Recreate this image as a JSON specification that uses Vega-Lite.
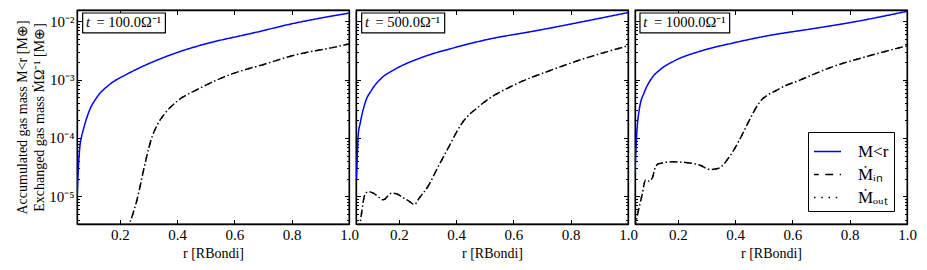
{
  "$schema": "https://vega.github.io/schema/vega-lite/v6.json",
  "padding": {"left": 14, "top": 8, "right": 0, "bottom": 0},
  "background": "white",
  "config": {
    "font": "Liberation Serif",
    "view": {"stroke": "black", "strokeWidth": 1.3},
    "axis": {"domainColor": "black", "domainWidth": 1.3, "tickColor": "black", "tickWidth": 1, "labelColor": "black", "titleColor": "black", "labelFontSize": 15, "titleFontSize": 14, "titleFontWeight": "normal", "grid": false, "labelFont": "Liberation Serif", "titleFont": "Liberation Serif"}
  },
  "resolve": {"scale": {"color": "independent", "strokeDash": "independent"}, "legend": {"color": "independent", "strokeDash": "independent"}},
  "datasets": {
    "curves": [
      {"p":1,"s":"M","r":0.051,"m":1.07e-5},{"p":1,"s":"M","r":0.055,"m":3.16e-5},{"p":1,"s":"M","r":0.06,"m":7.08e-5},{"p":1,"s":"M","r":0.065,"m":1.0e-4},{"p":1,"s":"M","r":0.0723,"m":1.40e-4},{"p":1,"s":"M","r":0.095,"m":3.09e-4},{"p":1,"s":"M","r":0.1186,"m":4.90e-4},{"p":1,"s":"M","r":0.165,"m":8.32e-4},{"p":1,"s":"M","r":0.223,"m":1.23e-3},{"p":1,"s":"M","r":0.281,"m":1.70e-3},{"p":1,"s":"M","r":0.397,"m":2.88e-3},{"p":1,"s":"M","r":0.513,"m":4.27e-3},{"p":1,"s":"M","r":0.629,"m":5.75e-3},{"p":1,"s":"M","r":0.675,"m":6.46e-3},{"p":1,"s":"M","r":0.794,"m":8.91e-3},{"p":1,"s":"M","r":1.0,"m":1.38e-2},
      {"p":1,"s":"in","r":0.226,"m":2.8e-6},{"p":1,"s":"in","r":0.244,"m":4.79e-6},{"p":1,"s":"in","r":0.261,"m":9.33e-6},{"p":1,"s":"in","r":0.284,"m":3.02e-5},{"p":1,"s":"in","r":0.307,"m":8.71e-5},{"p":1,"s":"in","r":0.331,"m":1.70e-4},{"p":1,"s":"in","r":0.354,"m":2.51e-4},{"p":1,"s":"in","r":0.40,"m":4.27e-4},{"p":1,"s":"in","r":0.47,"m":6.76e-4},{"p":1,"s":"in","r":0.587,"m":1.23e-3},{"p":1,"s":"in","r":0.702,"m":1.82e-3},{"p":1,"s":"in","r":0.818,"m":2.69e-3},{"p":1,"s":"in","r":0.934,"m":3.47e-3},{"p":1,"s":"in","r":1.0,"m":4.07e-3},
      {"p":1,"s":"out","r":0.226,"m":2.8e-6},{"p":1,"s":"out","r":0.244,"m":4.79e-6},{"p":1,"s":"out","r":0.261,"m":9.33e-6},{"p":1,"s":"out","r":0.284,"m":3.02e-5},{"p":1,"s":"out","r":0.307,"m":8.71e-5},{"p":1,"s":"out","r":0.331,"m":1.70e-4},{"p":1,"s":"out","r":0.354,"m":2.51e-4},{"p":1,"s":"out","r":0.40,"m":4.27e-4},{"p":1,"s":"out","r":0.47,"m":6.76e-4},{"p":1,"s":"out","r":0.587,"m":1.23e-3},{"p":1,"s":"out","r":0.702,"m":1.82e-3},{"p":1,"s":"out","r":0.818,"m":2.69e-3},{"p":1,"s":"out","r":0.934,"m":3.47e-3},{"p":1,"s":"out","r":1.0,"m":4.07e-3},
      {"p":2,"s":"M","r":0.052,"m":2.04e-5},{"p":2,"s":"M","r":0.058,"m":1.15e-4},{"p":2,"s":"M","r":0.065,"m":1.82e-4},{"p":2,"s":"M","r":0.0824,"m":4.07e-4},{"p":2,"s":"M","r":0.1057,"m":6.76e-4},{"p":2,"s":"M","r":0.140,"m":1.07e-3},{"p":2,"s":"M","r":0.187,"m":1.51e-3},{"p":2,"s":"M","r":0.28,"m":2.40e-3},{"p":2,"s":"M","r":0.396,"m":3.55e-3},{"p":2,"s":"M","r":0.511,"m":4.90e-3},{"p":2,"s":"M","r":0.674,"m":6.82e-3},{"p":2,"s":"M","r":1.0,"m":1.41e-2},
      {"p":2,"s":"in","r":0.062,"m":2.8e-6},{"p":2,"s":"in","r":0.0695,"m":5.13e-6},{"p":2,"s":"in","r":0.081,"m":1.07e-5},{"p":2,"s":"in","r":0.093,"m":1.20e-5},{"p":2,"s":"in","r":0.1105,"m":1.13e-5},{"p":2,"s":"in","r":0.134,"m":9.33e-6},{"p":2,"s":"in","r":0.145,"m":8.71e-6},{"p":2,"s":"in","r":0.174,"m":1.13e-5},{"p":2,"s":"in","r":0.191,"m":1.10e-5},{"p":2,"s":"in","r":0.217,"m":9.33e-6},{"p":2,"s":"in","r":0.237,"m":8.13e-6},{"p":2,"s":"in","r":0.254,"m":7.24e-6},{"p":2,"s":"in","r":0.271,"m":9.33e-6},{"p":2,"s":"in","r":0.305,"m":1.58e-5},{"p":2,"s":"in","r":0.334,"m":3.02e-5},{"p":2,"s":"in","r":0.369,"m":6.3e-5},{"p":2,"s":"in","r":0.417,"m":1.70e-4},{"p":2,"s":"in","r":0.487,"m":3.72e-4},{"p":2,"s":"in","r":0.603,"m":8.13e-4},{"p":2,"s":"in","r":0.719,"m":1.38e-3},{"p":2,"s":"in","r":0.835,"m":2.19e-3},{"p":2,"s":"in","r":1.0,"m":3.80e-3},
      {"p":2,"s":"out","r":0.062,"m":2.8e-6},{"p":2,"s":"out","r":0.0695,"m":5.13e-6},{"p":2,"s":"out","r":0.081,"m":1.07e-5},{"p":2,"s":"out","r":0.093,"m":1.20e-5},{"p":2,"s":"out","r":0.1105,"m":1.13e-5},{"p":2,"s":"out","r":0.134,"m":9.33e-6},{"p":2,"s":"out","r":0.145,"m":8.71e-6},{"p":2,"s":"out","r":0.174,"m":1.13e-5},{"p":2,"s":"out","r":0.191,"m":1.10e-5},{"p":2,"s":"out","r":0.217,"m":9.33e-6},{"p":2,"s":"out","r":0.237,"m":8.13e-6},{"p":2,"s":"out","r":0.254,"m":7.24e-6},{"p":2,"s":"out","r":0.271,"m":9.33e-6},{"p":2,"s":"out","r":0.305,"m":1.58e-5},{"p":2,"s":"out","r":0.334,"m":3.02e-5},{"p":2,"s":"out","r":0.369,"m":6.3e-5},{"p":2,"s":"out","r":0.417,"m":1.70e-4},{"p":2,"s":"out","r":0.487,"m":3.72e-4},{"p":2,"s":"out","r":0.603,"m":8.13e-4},{"p":2,"s":"out","r":0.719,"m":1.38e-3},{"p":2,"s":"out","r":0.835,"m":2.19e-3},{"p":2,"s":"out","r":1.0,"m":3.80e-3},
      {"p":3,"s":"M","r":0.05,"m":2.5e-5},{"p":3,"s":"M","r":0.056,"m":1.15e-4},{"p":3,"s":"M","r":0.065,"m":3.09e-4},{"p":3,"s":"M","r":0.0824,"m":6.03e-4},{"p":3,"s":"M","r":0.1057,"m":1.01e-3},{"p":3,"s":"M","r":0.140,"m":1.51e-3},{"p":3,"s":"M","r":0.187,"m":2.09e-3},{"p":3,"s":"M","r":0.28,"m":3.09e-3},{"p":3,"s":"M","r":0.395,"m":4.27e-3},{"p":3,"s":"M","r":0.511,"m":5.62e-3},{"p":3,"s":"M","r":0.674,"m":7.50e-3},{"p":3,"s":"M","r":0.804,"m":9.55e-3},{"p":3,"s":"M","r":1.0,"m":1.48e-2},
      {"p":3,"s":"in","r":0.05,"m":3.0e-6},{"p":3,"s":"in","r":0.064,"m":6.31e-6},{"p":3,"s":"in","r":0.075,"m":1.07e-5},{"p":3,"s":"in","r":0.087,"m":1.91e-5},{"p":3,"s":"in","r":0.099,"m":1.82e-5},{"p":3,"s":"in","r":0.110,"m":2.04e-5},{"p":3,"s":"in","r":0.122,"m":3.24e-5},{"p":3,"s":"in","r":0.1335,"m":3.63e-5},{"p":3,"s":"in","r":0.18,"m":3.89e-5},{"p":3,"s":"in","r":0.226,"m":3.80e-5},{"p":3,"s":"in","r":0.273,"m":3.47e-5},{"p":3,"s":"in","r":0.313,"m":2.88e-5},{"p":3,"s":"in","r":0.342,"m":3.02e-5},{"p":3,"s":"in","r":0.377,"m":4.57e-5},{"p":3,"s":"in","r":0.412,"m":8.71e-5},{"p":3,"s":"in","r":0.447,"m":1.91e-4},{"p":3,"s":"in","r":0.479,"m":3.72e-4},{"p":3,"s":"in","r":0.549,"m":6.76e-4},{"p":3,"s":"in","r":0.63,"m":1.0e-3},{"p":3,"s":"in","r":0.746,"m":1.70e-3},{"p":3,"s":"in","r":0.862,"m":2.51e-3},{"p":3,"s":"in","r":1.0,"m":3.80e-3},
      {"p":3,"s":"out","r":0.05,"m":3.0e-6},{"p":3,"s":"out","r":0.064,"m":6.31e-6},{"p":3,"s":"out","r":0.075,"m":1.07e-5},{"p":3,"s":"out","r":0.087,"m":1.91e-5},{"p":3,"s":"out","r":0.099,"m":1.82e-5},{"p":3,"s":"out","r":0.110,"m":2.04e-5},{"p":3,"s":"out","r":0.122,"m":3.24e-5},{"p":3,"s":"out","r":0.1335,"m":3.63e-5},{"p":3,"s":"out","r":0.18,"m":3.89e-5},{"p":3,"s":"out","r":0.226,"m":3.80e-5},{"p":3,"s":"out","r":0.273,"m":3.47e-5},{"p":3,"s":"out","r":0.313,"m":2.88e-5},{"p":3,"s":"out","r":0.342,"m":3.02e-5},{"p":3,"s":"out","r":0.377,"m":4.57e-5},{"p":3,"s":"out","r":0.412,"m":8.71e-5},{"p":3,"s":"out","r":0.447,"m":1.91e-4},{"p":3,"s":"out","r":0.479,"m":3.72e-4},{"p":3,"s":"out","r":0.549,"m":6.76e-4},{"p":3,"s":"out","r":0.63,"m":1.0e-3},{"p":3,"s":"out","r":0.746,"m":1.70e-3},{"p":3,"s":"out","r":0.862,"m":2.51e-3},{"p":3,"s":"out","r":1.0,"m":3.80e-3}
    ],
    "labels": [
      {"p":1,"label":"= 100.0Ω⁻¹"},
      {"p":2,"label":"= 500.0Ω⁻¹"},
      {"p":3,"label":"= 1000.0Ω⁻¹"}
    ]
  },
  "spacing": 7,
  "bounds": "flush",
  "hconcat": [
    {
      "width": 272, "height": 214,
      "resolve": {"axis": {"x": "independent", "y": "independent"}},
      "layer": [
        {
          "data": {"name": "curves"}, "transform": [{"filter": "datum.p == 1"}],
          "mark": {"type": "line", "strokeWidth": 1.5, "clip": true, "interpolate": "monotone"},
          "encoding": {
            "x": {"field": "r", "type": "quantitative", "scale": {"domain": [0.05, 1], "nice": false, "zero": false},
              "axis": {"orient": "bottom", "values": [0.2, 0.4, 0.6, 0.8, 1.0], "format": ".1f", "labelFlush": false, "labelOverlap": false, "labelBound": false, "tickSize": -4.5, "labelPadding": 7.5, "title": "r [RBondi]", "titlePadding": 4}},
            "y": {"field": "m", "type": "quantitative", "scale": {"type": "log", "domain": [3.35e-6, 1.56e-2], "nice": false},
              "axis": {"orient": "left", "values": [4e-6,5e-6,6e-6,7e-6,8e-6,9e-6,1e-5,2e-5,3e-5,4e-5,5e-5,6e-5,7e-5,8e-5,9e-5,1e-4,2e-4,3e-4,4e-4,5e-4,6e-4,7e-4,8e-4,9e-4,1e-3,2e-3,3e-3,4e-3,5e-3,6e-3,7e-3,8e-3,9e-3,1e-2],
                "labelExpr": "datum.value == 1e-5 ? '10⁻⁵' : datum.value == 1e-4 ? '10⁻⁴' : datum.value == 1e-3 ? '10⁻³' : datum.value == 1e-2 ? '10⁻²' : ''",
                "labelOverlap": false, "labelBound": false,
                "tickSize": {"condition": {"test": "datum.value == 1e-5 || datum.value == 1e-4 || datum.value == 1e-3 || datum.value == 1e-2", "value": -4.5}, "value": -2.5},
                "labelPadding": 7.5, "minExtent": 33, "maxExtent": 33, "titlePadding": -2, "titleLineHeight": 17,
                "title": ["Accumulated gas mass M<r [M⊕]", "Exchanged gas mass ṀΩ⁻¹ [M⊕]"]}},
            "color": {"field": "s", "type": "nominal", "scale": {"domain": ["M", "in", "out"], "range": ["#0000ff", "black", "black"]}, "legend": null},
            "strokeDash": {"field": "s", "type": "nominal", "scale": {"domain": ["M", "in", "out"], "range": [[1, 0], [4.75, 6.5, 3.25, 0], [1.5, 5.75]]}, "legend": null}
          }
        },
        {
          "data": {"name": "curves"}, "transform": [{"filter": "datum.p == 1"}],
          "mark": {"type": "line", "opacity": 0},
          "encoding": {
            "x": {"field": "r", "type": "quantitative", "axis": {"orient": "top", "values": [0.2, 0.4, 0.6, 0.8, 1.0], "labels": false, "tickSize": -4.5, "title": null}},
            "y": {"field": "m", "type": "quantitative", "axis": {"orient": "right", "values": [4e-6,5e-6,6e-6,7e-6,8e-6,9e-6,1e-5,2e-5,3e-5,4e-5,5e-5,6e-5,7e-5,8e-5,9e-5,1e-4,2e-4,3e-4,4e-4,5e-4,6e-4,7e-4,8e-4,9e-4,1e-3,2e-3,3e-3,4e-3,5e-3,6e-3,7e-3,8e-3,9e-3,1e-2], "labels": false, "title": null,
              "tickSize": {"condition": {"test": "datum.value == 1e-5 || datum.value == 1e-4 || datum.value == 1e-3 || datum.value == 1e-2", "value": -4.5}, "value": -2.5}}}
          }
        },
        {
          "data": {"name": "labels"}, "transform": [{"filter": "datum.p == 1"}],
          "mark": {"type": "rect", "fill": "white", "stroke": "black", "strokeWidth": 1.2},
          "encoding": {"x": {"datum": 0.0698, "type": "quantitative", "axis": null}, "x2": {"datum": 0.3587}, "y": {"datum": 0.01387, "type": "quantitative", "axis": null}, "y2": {"datum": 0.0063}}
        },
        {
          "data": {"name": "labels"}, "transform": [{"filter": "datum.p == 1"}],
          "mark": {"type": "text", "text": "t", "fontStyle": "italic", "fontSize": 14.5, "align": "left", "baseline": "middle"},
          "encoding": {"x": {"datum": 0.081, "type": "quantitative", "axis": null}, "y": {"datum": 0.00935, "type": "quantitative", "axis": null}}
        },
        {
          "data": {"name": "labels"}, "transform": [{"filter": "datum.p == 1"}],
          "mark": {"type": "text", "fontSize": 14.5, "align": "left", "baseline": "middle"},
          "encoding": {"x": {"datum": 0.118, "type": "quantitative", "axis": null}, "y": {"datum": 0.00935, "type": "quantitative", "axis": null}, "text": {"field": "label"}}
        }
      ]
    },
    {
      "width": 272, "height": 214,
      "resolve": {"axis": {"x": "independent", "y": "independent"}},
      "layer": [
        {
          "data": {"name": "curves"}, "transform": [{"filter": "datum.p == 2"}],
          "mark": {"type": "line", "strokeWidth": 1.5, "clip": true, "interpolate": "monotone"},
          "encoding": {
            "x": {"field": "r", "type": "quantitative", "scale": {"domain": [0.05, 1], "nice": false, "zero": false},
              "axis": {"orient": "bottom", "values": [0.2, 0.4, 0.6, 0.8, 1.0], "format": ".1f", "labelFlush": false, "labelOverlap": false, "labelBound": false, "tickSize": -4.5, "labelPadding": 7.5, "title": "r [RBondi]", "titlePadding": 4}},
            "y": {"field": "m", "type": "quantitative", "scale": {"type": "log", "domain": [3.35e-6, 1.56e-2], "nice": false},
              "axis": {"orient": "left", "values": [4e-6,5e-6,6e-6,7e-6,8e-6,9e-6,1e-5,2e-5,3e-5,4e-5,5e-5,6e-5,7e-5,8e-5,9e-5,1e-4,2e-4,3e-4,4e-4,5e-4,6e-4,7e-4,8e-4,9e-4,1e-3,2e-3,3e-3,4e-3,5e-3,6e-3,7e-3,8e-3,9e-3,1e-2], "labels": false, "title": null,
                "tickSize": {"condition": {"test": "datum.value == 1e-5 || datum.value == 1e-4 || datum.value == 1e-3 || datum.value == 1e-2", "value": -4.5}, "value": -2.5}}},
            "color": {"field": "s", "type": "nominal", "scale": {"domain": ["M", "in", "out"], "range": ["#0000ff", "black", "black"]}, "legend": null},
            "strokeDash": {"field": "s", "type": "nominal", "scale": {"domain": ["M", "in", "out"], "range": [[1, 0], [4.75, 6.5, 3.25, 0], [1.5, 5.75]]}, "legend": null}
          }
        },
        {
          "data": {"name": "curves"}, "transform": [{"filter": "datum.p == 2"}],
          "mark": {"type": "line", "opacity": 0},
          "encoding": {
            "x": {"field": "r", "type": "quantitative", "axis": {"orient": "top", "values": [0.2, 0.4, 0.6, 0.8, 1.0], "labels": false, "tickSize": -4.5, "title": null}},
            "y": {"field": "m", "type": "quantitative", "axis": {"orient": "right", "values": [4e-6,5e-6,6e-6,7e-6,8e-6,9e-6,1e-5,2e-5,3e-5,4e-5,5e-5,6e-5,7e-5,8e-5,9e-5,1e-4,2e-4,3e-4,4e-4,5e-4,6e-4,7e-4,8e-4,9e-4,1e-3,2e-3,3e-3,4e-3,5e-3,6e-3,7e-3,8e-3,9e-3,1e-2], "labels": false, "title": null,
              "tickSize": {"condition": {"test": "datum.value == 1e-5 || datum.value == 1e-4 || datum.value == 1e-3 || datum.value == 1e-2", "value": -4.5}, "value": -2.5}}}
          }
        },
        {
          "data": {"name": "labels"}, "transform": [{"filter": "datum.p == 2"}],
          "mark": {"type": "rect", "fill": "white", "stroke": "black", "strokeWidth": 1.2},
          "encoding": {"x": {"datum": 0.0698, "type": "quantitative", "axis": null}, "x2": {"datum": 0.3597}, "y": {"datum": 0.01387, "type": "quantitative", "axis": null}, "y2": {"datum": 0.0063}}
        },
        {
          "data": {"name": "labels"}, "transform": [{"filter": "datum.p == 2"}],
          "mark": {"type": "text", "text": "t", "fontStyle": "italic", "fontSize": 14.5, "align": "left", "baseline": "middle"},
          "encoding": {"x": {"datum": 0.081, "type": "quantitative", "axis": null}, "y": {"datum": 0.00935, "type": "quantitative", "axis": null}}
        },
        {
          "data": {"name": "labels"}, "transform": [{"filter": "datum.p == 2"}],
          "mark": {"type": "text", "fontSize": 14.5, "align": "left", "baseline": "middle"},
          "encoding": {"x": {"datum": 0.118, "type": "quantitative", "axis": null}, "y": {"datum": 0.00935, "type": "quantitative", "axis": null}, "text": {"field": "label"}}
        }
      ]
    },
    {
      "width": 272, "height": 214,
      "resolve": {"axis": {"x": "independent", "y": "independent"}},
      "layer": [
        {
          "data": {"name": "curves"}, "transform": [{"filter": "datum.p == 3"}],
          "mark": {"type": "line", "strokeWidth": 1.5, "clip": true, "interpolate": "monotone"},
          "encoding": {
            "x": {"field": "r", "type": "quantitative", "scale": {"domain": [0.05, 1], "nice": false, "zero": false},
              "axis": {"orient": "bottom", "values": [0.2, 0.4, 0.6, 0.8, 1.0], "format": ".1f", "labelFlush": false, "labelOverlap": false, "labelBound": false, "tickSize": -4.5, "labelPadding": 7.5, "title": "r [RBondi]", "titlePadding": 4}},
            "y": {"field": "m", "type": "quantitative", "scale": {"type": "log", "domain": [3.35e-6, 1.56e-2], "nice": false},
              "axis": {"orient": "left", "values": [4e-6,5e-6,6e-6,7e-6,8e-6,9e-6,1e-5,2e-5,3e-5,4e-5,5e-5,6e-5,7e-5,8e-5,9e-5,1e-4,2e-4,3e-4,4e-4,5e-4,6e-4,7e-4,8e-4,9e-4,1e-3,2e-3,3e-3,4e-3,5e-3,6e-3,7e-3,8e-3,9e-3,1e-2], "labels": false, "title": null,
                "tickSize": {"condition": {"test": "datum.value == 1e-5 || datum.value == 1e-4 || datum.value == 1e-3 || datum.value == 1e-2", "value": -4.5}, "value": -2.5}}},
            "color": {"field": "s", "type": "nominal", "scale": {"domain": ["M", "in", "out"], "range": ["#0000ff", "black", "black"]},
              "legend": {"orient": "bottom-right", "offset": 13, "title": null, "strokeColor": "black", "fillColor": "white", "padding": 5, "symbolType": "stroke", "symbolSize": 729, "symbolStrokeWidth": 1.5, "labelFontSize": 17, "labelFont": "Liberation Serif", "labelColor": "black", "labelOffset": 16, "rowPadding": 0, "labelExpr": "datum.value == 'M' ? 'M<r' : datum.value == 'in' ? 'Ṁᵢₙ' : 'Ṁₒᵤₜ'"}},
            "strokeDash": {"field": "s", "type": "nominal", "scale": {"domain": ["M", "in", "out"], "range": [[1, 0], [4.75, 6.5, 3.25, 0], [1.5, 5.75]]},
              "legend": {"orient": "bottom-right", "offset": 13, "title": null, "strokeColor": "black", "fillColor": "white", "padding": 5, "symbolType": "stroke", "symbolSize": 729, "symbolStrokeWidth": 1.5, "labelFontSize": 17, "labelFont": "Liberation Serif", "labelColor": "black", "labelOffset": 16, "rowPadding": 0, "labelExpr": "datum.value == 'M' ? 'M<r' : datum.value == 'in' ? 'Ṁᵢₙ' : 'Ṁₒᵤₜ'"}}
          }
        },
        {
          "data": {"name": "curves"}, "transform": [{"filter": "datum.p == 3"}],
          "mark": {"type": "line", "opacity": 0},
          "encoding": {
            "x": {"field": "r", "type": "quantitative", "axis": {"orient": "top", "values": [0.2, 0.4, 0.6, 0.8, 1.0], "labels": false, "tickSize": -4.5, "title": null}},
            "y": {"field": "m", "type": "quantitative", "axis": {"orient": "right", "values": [4e-6,5e-6,6e-6,7e-6,8e-6,9e-6,1e-5,2e-5,3e-5,4e-5,5e-5,6e-5,7e-5,8e-5,9e-5,1e-4,2e-4,3e-4,4e-4,5e-4,6e-4,7e-4,8e-4,9e-4,1e-3,2e-3,3e-3,4e-3,5e-3,6e-3,7e-3,8e-3,9e-3,1e-2], "labels": false, "title": null,
              "tickSize": {"condition": {"test": "datum.value == 1e-5 || datum.value == 1e-4 || datum.value == 1e-3 || datum.value == 1e-2", "value": -4.5}, "value": -2.5}}}
          }
        },
        {
          "data": {"name": "labels"}, "transform": [{"filter": "datum.p == 3"}],
          "mark": {"type": "rect", "fill": "white", "stroke": "black", "strokeWidth": 1.2},
          "encoding": {"x": {"datum": 0.0674, "type": "quantitative", "axis": null}, "x2": {"datum": 0.3806}, "y": {"datum": 0.01387, "type": "quantitative", "axis": null}, "y2": {"datum": 0.0063}}
        },
        {
          "data": {"name": "labels"}, "transform": [{"filter": "datum.p == 3"}],
          "mark": {"type": "text", "text": "t", "fontStyle": "italic", "fontSize": 14.5, "align": "left", "baseline": "middle"},
          "encoding": {"x": {"datum": 0.079, "type": "quantitative", "axis": null}, "y": {"datum": 0.00935, "type": "quantitative", "axis": null}}
        },
        {
          "data": {"name": "labels"}, "transform": [{"filter": "datum.p == 3"}],
          "mark": {"type": "text", "fontSize": 14.5, "align": "left", "baseline": "middle"},
          "encoding": {"x": {"datum": 0.116, "type": "quantitative", "axis": null}, "y": {"datum": 0.00935, "type": "quantitative", "axis": null}, "text": {"field": "label"}}
        }
      ]
    }
  ]
}
